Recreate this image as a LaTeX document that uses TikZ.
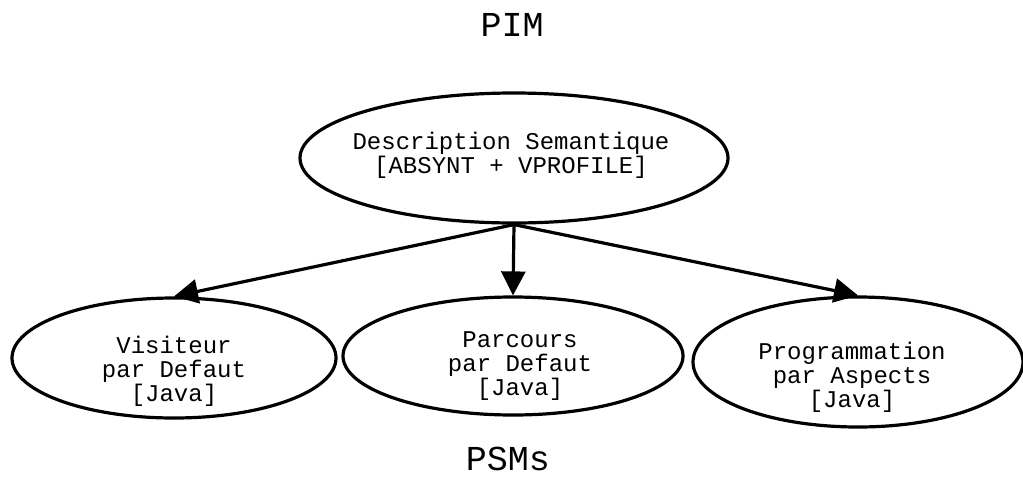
\documentclass[tikz,border=0pt]{standalone}
\usepackage{fontspec}
\setmainfont{Liberation Mono}
\usetikzlibrary{shapes.geometric,arrows.meta}
\begin{document}
\begin{tikzpicture}[x=1pt,y=-1pt,
  oval/.style={draw,ellipse,line width=3.2pt,inner sep=0pt},
  lbl/.style={align=center,inner sep=0pt,font=\fontsize{24}{24}\selectfont},
  title/.style={inner sep=0pt,anchor=base,font=\fontsize{35}{35}\selectfont},
  arr/.style={line width=3.2pt,-{Triangle[length=24pt,width=24pt]}}]
\useasboundingbox (0,0) rectangle (1023,477);
\node[title] (pim) at (512,36) {PIM};
\node[title] (psm) at (508,470) {PSMs};
\node[oval,minimum width=428pt,minimum height=130pt] (top) at (514,158) {};
\node[oval,minimum width=324pt,minimum height=120pt] (l) at (174,358) {};
\node[oval,minimum width=340pt,minimum height=118pt] (m) at (513,356) {};
\node[oval,minimum width=330pt,minimum height=130pt] (r) at (858,362) {};
\node[lbl] (ttop) at (511,155) {Description Semantique\\{}[ABSYNT + VPROFILE]};
\node[lbl] (tl) at (174,371) {Visiteur\\par Defaut\\{}[Java]};
\node[lbl] (tm) at (520,366) {Parcours\\par Defaut\\{}[Java]};
\node[lbl] (tr) at (852,377) {Programmation\\par Aspects\\{}[Java]};
\coordinate (s) at (top.south);
\draw[arr] (s) -- (l.north);
\draw[arr] (s) -- (m.north);
\draw[arr] (s) -- (r.north);
\end{tikzpicture}
\end{document}
